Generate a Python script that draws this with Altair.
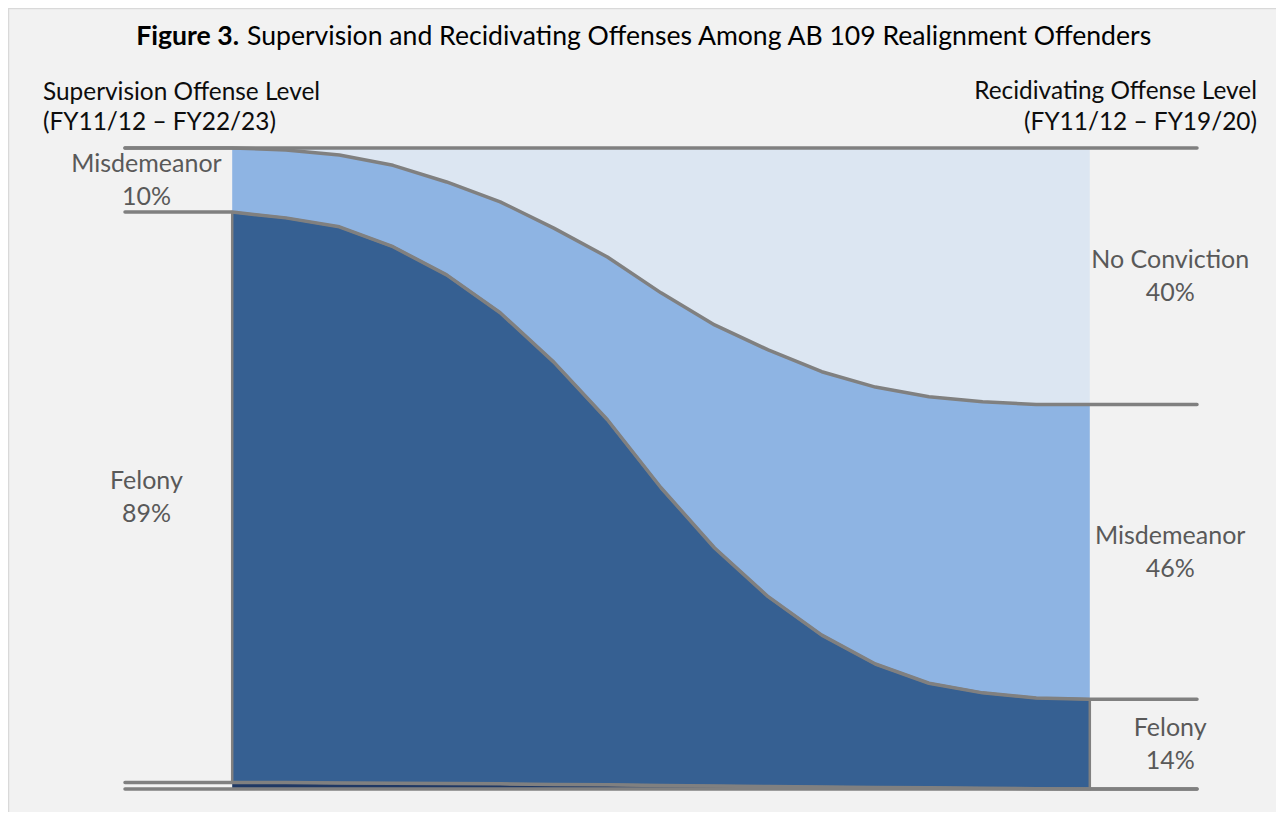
import altair as alt
import pandas as pd

# ---- data (percent of offenders at each step) ----
steps = list(range(2, 19))  # positions of the area's data points (lines run 0..20)
other_share = [1.0, 1.0, 0.95, 0.9, 0.85, 0.8, 0.7, 0.65, 0.55, 0.45, 0.4, 0.3, 0.25, 0.2, 0.1, 0.05, 0.0]
felony_share = [89.0, 88.1, 86.75, 83.7, 79.35, 73.5, 65.9, 56.95, 46.45, 37.15, 29.6, 23.7, 19.25, 16.3, 14.9, 14.15, 14.0]
misd_share = [10.0, 10.6, 11.2, 12.7, 14.5, 17.3, 20.9, 25.4, 30.4, 34.8, 38.5, 41.1, 43.2, 44.7, 45.4, 45.8, 46.0]
noconv_share = [0.0, 0.3, 1.1, 2.7, 5.3, 8.4, 12.5, 17.0, 22.6, 27.6, 31.5, 34.9, 37.3, 38.8, 39.6, 40.0, 40.0]

band_names = ["Other", "Felony", "Misdemeanor", "No Conviction"]
band_colors = ["#1F3864", "#366092", "#8EB4E3", "#DCE6F2"]
x_min, x_max = 0, 20

title_bold = "Figure 3."
title_rest = "Supervision and Recidivating Offenses Among AB 109 Realignment Offenders"
left_head = ["Supervision Offense Level", "(FY11/12 \u2013 FY22/23)"]
right_head = ["Recidivating Offense Level", "(FY11/12 \u2013 FY19/20)"]

# ---- build tables ----
shares = [other_share, felony_share, misd_share, noconv_share]
cum = [[0.0] * len(steps)]
for s in shares:
    cum.append([round(a + b, 3) for a, b in zip(cum[-1], s)])

area_rows = []
for k, name in enumerate(band_names):
    for i, x in enumerate(steps):
        area_rows.append({"band": name, "x": x, "lo": cum[k][i], "hi": cum[k + 1][i]})
area_df = pd.DataFrame(area_rows)
felony_df = area_df[area_df.band == "Felony"]

line_rows = []
for k, c in enumerate(cum):
    line_rows.append({"b": k, "x": x_min, "v": c[0]})
    for i, x in enumerate(steps):
        line_rows.append({"b": k, "x": x, "v": c[i]})
    line_rows.append({"b": k, "x": x_max, "v": c[-1]})
line_df = pd.DataFrame(line_rows)

def lab(name, pct):
    return f"{name}\n{round(pct):d}%"

label_df = pd.DataFrame([
    {"x": 0.4, "y": (cum[2][0] + cum[3][0]) / 2, "t": lab("Misdemeanor", misd_share[0])},
    {"x": 0.4, "y": (cum[1][0] + cum[2][0]) / 2, "t": lab("Felony", felony_share[0])},
    {"x": 19.5, "y": (cum[3][-1] + cum[4][-1]) / 2, "t": lab("No Conviction", noconv_share[-1])},
    {"x": 19.5, "y": (cum[2][-1] + cum[3][-1]) / 2, "t": lab("Misdemeanor", misd_share[-1])},
    {"x": 19.5, "y": (cum[1][-1] + cum[2][-1]) / 2, "t": lab("Felony", felony_share[-1])},
])

xs = alt.Scale(domain=[x_min, x_max], nice=False, zero=False)
ys = alt.Scale(domain=[0, 100], nice=False, zero=True)
X = alt.X("x:Q", scale=xs, axis=None)

W, H = 1072, 641
PAD_B = 23
FONT = "Lato"

areas = alt.Chart(area_df).mark_area(interpolate="linear").encode(
    x=X,
    y=alt.Y("lo:Q", scale=ys, axis=None),
    y2="hi:Q",
    color=alt.Color("band:N", scale=alt.Scale(domain=band_names, range=band_colors), legend=None),
)

felony_edge = alt.Chart(felony_df).mark_area(
    interpolate="linear", fillOpacity=0, stroke="#808080", strokeWidth=2.5
).encode(x=X, y=alt.Y("lo:Q", scale=ys, axis=None), y2="hi:Q")

lines = alt.Chart(line_df).mark_line(
    color="#808080", strokeWidth=3.5, strokeCap="round", strokeJoin="round", interpolate="linear"
).encode(x=X, y=alt.Y("v:Q", scale=ys, axis=None), detail="b:N")

labels = alt.Chart(label_df).mark_text(
    font=FONT, fontSize=25, color="#595959", align="center", baseline="middle",
    lineBreak="\n", lineHeight=33, dy=-16
).encode(x=X, y=alt.Y("y:Q", scale=ys, axis=None), text="t:N")

one = pd.DataFrame({"k": [0]})
def txt(s, px, py, align, size, weight="normal", color="#0D0D0D"):
    return alt.Chart(one).mark_text(
        text=s, font=FONT, fontSize=size, fontWeight=weight, color=color,
        align=align, baseline="alphabetic"
    ).encode(x=alt.value(px), y=alt.value(py))

ox, oy = 125, 148  # absolute pixel of plot origin (for header placement)
texts = [
    txt(title_bold, 239 - ox, 45 - oy, "right", 26.6, "bold", "#000000"),
    txt(title_rest, 247 - ox, 45 - oy, "left", 26.6, "normal", "#000000"),
    txt(left_head[0], 43 - ox, 100 - oy, "left", 24.4),
    txt(left_head[1], 43 - ox, 130 - oy, "left", 24.4),
    txt(right_head[0], 1257 - ox, 99 - oy, "right", 24.4),
    txt(right_head[1], 1257 - ox, 130 - oy, "right", 24.4),
]

frame = alt.Chart(one).mark_rule(color="#D9D9D9", strokeWidth=1.5).encode(
    x=alt.value(-116.5), x2=alt.value(-116.5), y=alt.value(-140), y2=alt.value(H + PAD_B)
)
frame_top = alt.Chart(one).mark_rule(color="#D9D9D9", strokeWidth=1.5).encode(
    x=alt.value(-117), x2=alt.value(W + 79), y=alt.value(-139.5), y2=alt.value(-139.5)
)

chart = alt.layer(areas, felony_edge, lines, labels, frame, frame_top, *texts).properties(
    width=W, height=H,
    autosize=alt.AutoSizeParams(type="none"),
    padding={"left": 117, "top": 140, "right": 79, "bottom": PAD_B},
    background="#F2F2F2",
).configure_view(strokeWidth=0)

chart.save("out.html", embed_options={"renderer": "svg", "actions": False})
